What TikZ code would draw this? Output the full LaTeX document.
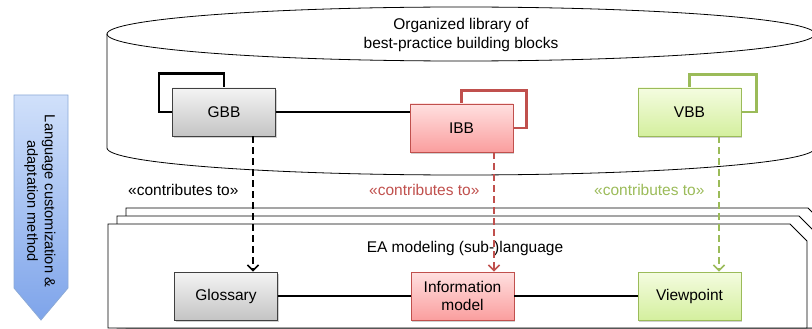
\documentclass[tikz,border=0pt]{standalone}
\usepackage{fontspec}
\setmainfont{Liberation Sans}
\usetikzlibrary{arrows.meta,shadows,backgrounds}

\definecolor{redline}{RGB}{192,80,77}
\definecolor{greenline}{RGB}{155,187,89}
\definecolor{redtop}{RGB}{255,224,224}
\definecolor{redbot}{RGB}{250,158,158}
\definecolor{greentop}{RGB}{244,252,224}
\definecolor{greenbot}{RGB}{212,239,158}
\definecolor{graytop}{RGB}{244,244,244}
\definecolor{graybot}{RGB}{196,196,196}
\definecolor{bluetop}{RGB}{208,224,250}
\definecolor{bluebot}{RGB}{126,164,234}
\definecolor{blueborder}{RGB}{140,170,215}

\begin{document}
\begin{tikzpicture}[x=1pt,y=-1pt,
  font=\fontsize{15.5}{18.5}\selectfont,
  block/.style={draw, minimum width=103pt, minimum height=48pt, inner sep=0pt,
    line width=0.9pt, align=center,
    drop shadow={shadow xshift=1pt, shadow yshift=-1.8pt, opacity=0.3, fill=black!60}},
  grayblock/.style={block, draw=black!75, top color=graytop, bottom color=graybot},
  redblock/.style={block, draw=redline, top color=redtop, bottom color=redbot},
  greenblock/.style={block, draw=greenline, top color=greentop, bottom color=greenbot},
  frame/.style={line width=2.2pt},
  link/.style={line width=2pt},
  contrib/.style={line width=1.6pt, dash pattern=on 7pt off 4pt,
    -{Straight Barb[length=5.5pt,width=11pt]}},
  panel/.style={draw, fill=white, line width=0.8pt},
]
\useasboundingbox (0,0) rectangle (812,329);
\clip (0,0) rectangle (812,329);

% method arrow on the left
\shade[top color=bluetop, bottom color=bluebot, draw=blueborder, line width=0.8pt]
  (14,95) -- (68,95) -- (68,288) -- (41,320) -- (14,288) -- cycle;
\node[rotate=-90, align=center, font=\fontsize{14.6}{17.5}\selectfont] (method) at (40,201)
  {Language customization \&\\adaptation method};

% library cylinder
\draw[line width=0.8pt] (461,34) ellipse [x radius=354, y radius=27];
\draw[line width=0.8pt] (107,34) -- (107,148)
  arc[start angle=180, end angle=0, x radius=354, y radius=27] -- (815,34);
\node[align=center] (libtitle) at (461,35)
  {Organized library of\\best-practice building blocks};

% stacked language panels
\foreach \d in {2,1,0}{
  \pgfmathsetmacro{\l}{108+9*\d}
  \pgfmathsetmacro{\t}{224-8*\d}
  \pgfmathsetmacro{\r}{807+9*\d}
  \path[panel] (\l,328) -- (\l,\t) -- (\r-17,\t) -- (\r,\t+17) -- (\r,328) -- cycle;
}
\node (langtitle) at (465,248) {EA modeling (sub-)language};

% building blocks
\node[grayblock] (GBB) at (224,112) {GBB};
\node[redblock] (IBB) at (461.5,128) {IBB};
\node[greenblock] (VBB) at (689.5,112) {VBB};

% language elements
\node[grayblock] (Glossary) at (226,296) {Glossary};
\node[redblock] (Info) at (462.5,296) {Information\\model};
\node[greenblock] (Viewpoint) at (689.5,296) {Viewpoint};

% self frames behind the blocks
\begin{scope}[on background layer]
  \draw[frame] ([xshift=-13pt]GBB.west) rectangle ([yshift=14pt]GBB.north);
  \draw[frame, draw=redline] (IBB.center) rectangle ([xshift=13pt,yshift=13pt]IBB.north east);
  \draw[frame, draw=greenline] (VBB.center) rectangle ([xshift=15pt,yshift=13pt]VBB.north east);
\end{scope}

% associations
\draw[link] (GBB.east) -- (GBB.east -| IBB.west);
\draw[link] (Glossary.east) -- (Info.west);
\draw[link] (Info.east) -- (Viewpoint.west);

% contributions
\draw[contrib] ([xshift=29pt]GBB.south) -- ([xshift=29pt]GBB.south |- Glossary.north);
\draw[contrib, redline] ([xshift=32.5pt]IBB.south) -- ([xshift=32.5pt]IBB.south |- Info.north);
\draw[contrib, greenline] ([xshift=29.5pt]VBB.south) -- ([xshift=29.5pt]VBB.south |- Viewpoint.north);

\node[anchor=east] (cg) at (242,190) {«contributes to»};
\node[anchor=east, text=redline] (cr) at (483,190) {«contributes to»};
\node[anchor=east, text=greenline] (cv) at (708,190) {«contributes to»};
\end{tikzpicture}
\end{document}
